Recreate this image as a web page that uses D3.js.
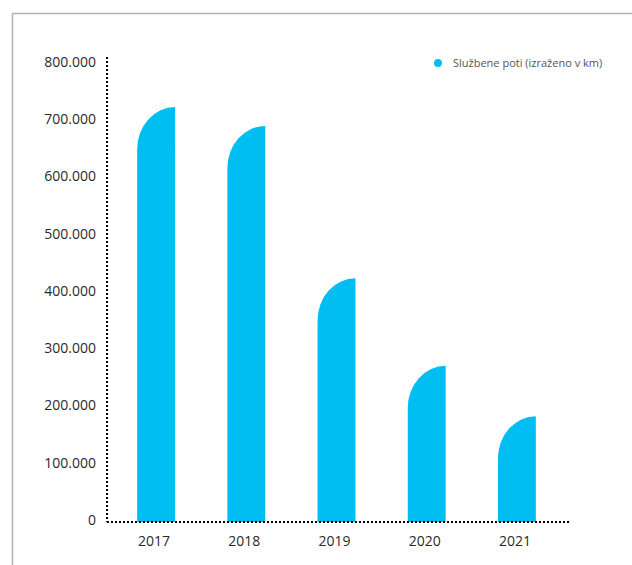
<!DOCTYPE html>
<html>
<head>
<meta charset="utf-8">
<script src="https://cdn.jsdelivr.net/npm/d3@7"></script>
<style>
  body { margin: 0; background: #fff; }
  svg { display: block; font-family: "Open Sans", "Noto Sans", sans-serif; }
</style>
</head>
<body>
<svg id="chart" width="632" height="565"></svg>
<script>
// chart data
const years = ["2017", "2018", "2019", "2020", "2021"];
const kmValues = [723000, 690000, 424000, 271000, 183000];
const yTicks = [0, 100000, 200000, 300000, 400000, 500000, 600000, 700000, 800000];
const seriesName = "Službene poti (izraženo v km)";

const barColor = "#00bef2";

const svg = d3.select("#chart");

// outer frame (only top and left visible)
svg.append("line")
    .attr("x1", 12).attr("y1", 13.5).attr("x2", 632).attr("y2", 13.5)
    .style("stroke", "#b3b3b3").style("stroke-width", 1.5);
svg.append("line")
    .attr("x1", 12.5).attr("y1", 13).attr("x2", 12.5).attr("y2", 565)
    .style("stroke", "#b3b3b3").style("stroke-width", 1.5);

const x = d3.scaleBand()
    .domain(years)
    .range([111, 562])
    .paddingInner(0.58)
    .paddingOuter(0.29);

const y = d3.scaleLinear()
    .domain([0, 800000])
    .range([521, 63]);

const fmt = v => v === 0 ? "0" : d3.format(",")(v).replace(/,/g, ".");

// bars with rounded top-left corner
function barPath(d, i) {
    const x0 = x(years[i]);
    const w = x.bandwidth();
    const top = y(d);
    const base = y(0) + 1;
    const ry = Math.min(42, base - top);
    return `M${x0},${base}V${top + ry}A${w},${ry} 0 0 1 ${x0 + w},${top}V${base}Z`;
}

svg.append("g")
    .selectAll("path")
    .data(kmValues)
    .enter().append("path")
    .attr("d", (d, i) => barPath(d, i))
    .style("fill", barColor);

// dotted axes
svg.append("line")
    .attr("x1", 107).attr("y1", 57).attr("x2", 107).attr("y2", 522)
    .style("stroke", "#000").style("stroke-width", 2)
    .style("stroke-dasharray", "2,2");
svg.append("line")
    .attr("x1", 107).attr("y1", 522).attr("x2", 569).attr("y2", 522)
    .style("stroke", "#000").style("stroke-width", 2)
    .style("stroke-dasharray", "2,2");

// y tick labels
svg.append("g")
    .selectAll("text")
    .data(yTicks)
    .enter().append("text")
    .attr("x", 96)
    .attr("y", d => y(d) - 1)
    .attr("dy", "0.35em")
    .attr("text-anchor", "end")
    .style("font-size", "14px")
    .style("fill", "#2a2a2a")
    .text(fmt);

// x labels
svg.append("g")
    .selectAll("text")
    .data(years)
    .enter().append("text")
    .attr("x", d => x(d) + x.bandwidth() / 2 - 2)
    .attr("y", 541)
    .attr("dy", "0.35em")
    .attr("text-anchor", "middle")
    .style("font-size", "14px")
    .style("fill", "#2a2a2a")
    .text(d => d);

// legend
const legend = svg.append("g").attr("transform", "translate(438,63)");
legend.append("circle").attr("r", 4).style("fill", barColor);
legend.append("text")
    .attr("x", 15).attr("dy", "0.35em")
    .style("font-size", "11px")
    .style("fill", "#555")
    .text(seriesName);
</script>
</body>
</html>
